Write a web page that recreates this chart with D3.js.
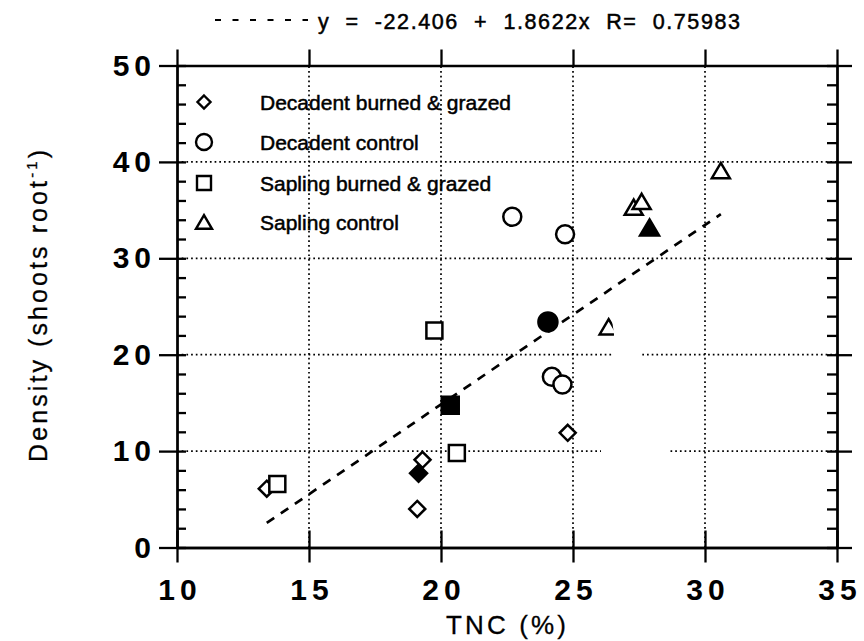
<!DOCTYPE html>
<html>
<head>
<meta charset="utf-8">
<script src="https://cdn.jsdelivr.net/npm/d3@7"></script>
<style>
  html, body { margin: 0; padding: 0; background: #fff; }
  svg { display: block; font-family: "Liberation Sans", Arial, Helvetica, sans-serif; }
</style>
</head>
<body>
<svg id="chart" width="864" height="641"></svg>
<script>
// ---------- data ----------
const seriesNames = ["Decadent burned & grazed", "Decadent control", "Sapling burned & grazed", "Sapling control"];
const seriesShapes = ["diamond", "circle", "square", "triangle"];

const decBurnedX = [13.4, 19.3, 19.1, 24.8];
const decBurnedY = [6.1, 9.1, 4.0, 11.9];
const decBurnedMean = [19.15, 7.7];

const decControlX = [22.7, 24.7, 24.2, 24.6];
const decControlY = [34.3, 32.5, 17.7, 16.9];
const decControlMean = [24.05, 23.4];

const sapBurnedX = [13.8, 19.75, 20.6];
const sapBurnedY = [6.6, 22.5, 9.8];
const sapBurnedMean = [20.35, 14.75];

const sapControlX = [30.6, 27.3, 27.6, 26.35];
const sapControlY = [39.1, 35.3, 35.9, 22.9];
const sapControlMean = [27.9, 33.2];

const xTicks = [10, 15, 20, 25, 30, 35];
const yTicks = [0, 10, 20, 30, 40, 50];
const yMinorTicks = d3.range(0, 50.01, 2);

const fitIntercept = -22.406;
const fitSlope = 1.8622;
const fitRange = [13.4, 30.6];
const titleText = "y  =  -22.406  +  1.8622x  R=  0.75983";
const xTitle = "TNC (%)";

// ---------- layout ----------
const svg = d3.select("#chart");
const x = d3.scaleLinear().domain([10, 35]).range([177, 837]);
const y = d3.scaleLinear().domain([0, 50]).range([547.5, 65.5]);
const X0 = x.range()[0], X1 = x.range()[1], Y0 = y.range()[0], Y1 = y.range()[1];

// gridlines (dotted)
const grid = svg.append("g").attr("stroke", "#000").attr("stroke-width", 1.7).attr("stroke-dasharray", "1.7,3");
grid.selectAll("line.vx").data(xTicks.slice(1, -1)).join("line")
  .attr("x1", d => x(d)).attr("x2", d => x(d)).attr("y1", Y0).attr("y2", Y1);
grid.selectAll("line.hy").data(yTicks.slice(1, -1)).join("line")
  .attr("x1", X0).attr("x2", X1).attr("y1", d => y(d)).attr("y2", d => y(d));

// axes
function styleAxis(g) {
  g.selectAll(".domain").attr("stroke", "#000").attr("stroke-width", 2.3);
  g.selectAll(".tick line").attr("stroke", "#000").attr("stroke-width", 2.3);
}
const tickFont = g => g.selectAll("text")
  .attr("font-size", 30).attr("font-weight", "bold").attr("fill", "#000")
  .style("letter-spacing", "5px");

// bottom
svg.append("g").attr("transform", `translate(0,${Y0})`)
  .call(d3.axisBottom(x).tickValues(xTicks).tickSizeInner(15).tickSizeOuter(0).tickPadding(16).tickFormat(d3.format("d")))
  .call(styleAxis)
  .call(g => { tickFont(g); g.selectAll("text").attr("dx", "2.5px"); });
svg.append("g").attr("transform", `translate(0,${Y0})`)
  .call(d3.axisBottom(x).tickValues(xTicks).tickSizeInner(-17).tickSizeOuter(0).tickFormat(""))
  .call(styleAxis);
// top
svg.append("g").attr("transform", `translate(0,${Y1})`)
  .call(d3.axisTop(x).tickValues(xTicks).tickSizeInner(16).tickSizeOuter(0).tickFormat(""))
  .call(styleAxis);
// left
svg.append("g").attr("transform", `translate(${X0},0)`)
  .call(d3.axisLeft(y).tickValues(yTicks).tickSizeInner(18).tickSizeOuter(0).tickPadding(8).tickFormat(d3.format("d")))
  .call(styleAxis)
  .call(g => { tickFont(g); g.selectAll("text").attr("dx", "5px"); });
svg.append("g").attr("transform", `translate(${X0},0)`)
  .call(d3.axisLeft(y).tickValues(yMinorTicks).tickSizeInner(-9).tickSizeOuter(0).tickFormat(""))
  .call(styleAxis);
// right
svg.append("g").attr("transform", `translate(${X1},0)`)
  .call(d3.axisRight(y).tickValues(yTicks).tickSizeInner(15).tickSizeOuter(0).tickFormat(""))
  .call(styleAxis);
svg.append("g").attr("transform", `translate(${X1},0)`)
  .call(d3.axisRight(y).tickValues(yMinorTicks).tickSizeInner(-10).tickSizeOuter(0).tickFormat(""))
  .call(styleAxis);

// regression line
const fitLine = d3.line().x(d => x(d)).y(d => y(fitIntercept + fitSlope * d));
svg.append("path").datum(fitRange)
  .attr("d", fitLine).attr("fill", "none").attr("stroke", "#000")
  .attr("stroke-width", 2.7).attr("stroke-dasharray", "9,8");

// marker shapes
function shapePath(type, s) {
  const h = s / 2;
  if (type === "diamond") return `M0,${-h}L${h},0L0,${h}L${-h},0Z`;
  if (type === "square") return `M${-h},${-h}H${h}V${h}H${-h}Z`;
  if (type === "triangle") { const th = s * 0.85; return `M0,${-th/2}L${h},${th/2}L${-h},${th/2}Z`; }
  return `M${h},0A${h},${h} 0 1,1 ${-h},0A${h},${h} 0 1,1 ${h},0Z`;
}
const markerSize = { diamond: 16, circle: 18, square: 16, triangle: 18 };
const seriesData = [
  { xs: decBurnedX, ys: decBurnedY, mean: decBurnedMean },
  { xs: decControlX, ys: decControlY, mean: decControlMean },
  { xs: sapBurnedX, ys: sapBurnedY, mean: sapBurnedMean },
  { xs: sapControlX, ys: sapControlY, mean: sapControlMean }
];
const pts = svg.append("g");
seriesData.forEach((s, i) => {
  const shape = seriesShapes[i];
  const open = s.xs.map((v, j) => [v, s.ys[j]]);
  pts.selectAll(null).data(open).join("path")
    .attr("transform", d => `translate(${x(d[0])},${y(d[1])})`)
    .attr("d", shapePath(shape, markerSize[shape]))
    .attr("fill", "#fff").attr("stroke", "#000").attr("stroke-width", 2.5);
  pts.append("path")
    .attr("transform", `translate(${x(s.mean[0])},${y(s.mean[1])})`)
    .attr("d", shapePath(shape, markerSize[shape] + 1))
    .attr("fill", "#000").attr("stroke", "#000").attr("stroke-width", 2.5);
});

// scan blank patch
svg.append("path")
  .attr("d", "M611,313L642,313L642,425L668,425L668,478L601,478L601,425L613,360L614,334Z")
  .attr("fill", "#fff");

// legend
const legendY = [102, 142, 183, 222];
const leg = svg.append("g");
seriesNames.forEach((name, i) => {
  const shape = seriesShapes[i];
  leg.append("path")
    .attr("transform", `translate(204,${legendY[i]})`)
    .attr("d", shapePath(shape, shape === "diamond" ? 13 : markerSize[shape] - 2))
    .attr("fill", "#fff").attr("stroke", "#000").attr("stroke-width", 2.4);
  leg.append("text").attr("x", 260).attr("y", legendY[i] + 7.5)
    .attr("font-size", 21).attr("fill", "#000")
    .attr("stroke", "#000").attr("stroke-width", 0.5).text(name);
});

// title
svg.append("line").attr("x1", 215).attr("x2", 308).attr("y1", 20).attr("y2", 20)
  .attr("stroke", "#000").attr("stroke-width", 2).attr("stroke-dasharray", "6,11.5");
svg.append("text").attr("x", 318).attr("y", 29)
  .attr("font-size", 21.5).attr("fill", "#000")
  .attr("stroke", "#000").attr("stroke-width", 0.5)
  .attr("textLength", 422).attr("lengthAdjust", "spacing")
  .style("white-space", "pre").text(titleText);

// x axis title
svg.append("text").attr("x", 506).attr("y", 634).attr("text-anchor", "middle")
  .attr("font-size", 26).attr("fill", "#000")
  .attr("stroke", "#000").attr("stroke-width", 0.3)
  .attr("textLength", 120).attr("lengthAdjust", "spacing").text(xTitle);

// y axis title
const yt = svg.append("text").attr("transform", "translate(47,306) rotate(-90)")
  .attr("text-anchor", "middle").attr("font-size", 25).attr("fill", "#000")
  .attr("stroke", "#000").attr("stroke-width", 0.3)
  .attr("textLength", 312).attr("lengthAdjust", "spacing");
yt.append("tspan").text("Density (shoots root");
yt.append("tspan").attr("dy", -10).attr("font-size", 15).text("-1");
yt.append("tspan").attr("dy", 10).text(")");
</script>
</body>
</html>
